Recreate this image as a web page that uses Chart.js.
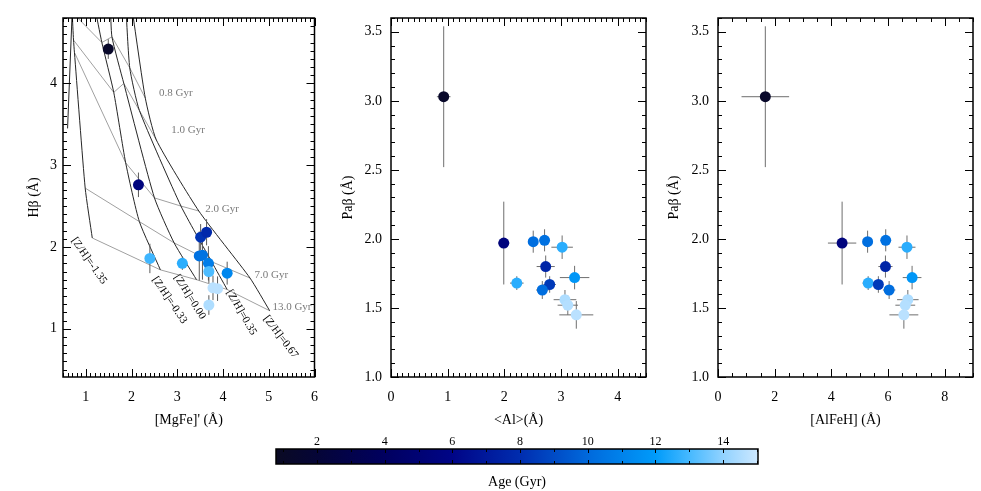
<!DOCTYPE html>
<html><head><meta charset="utf-8">
<script src="https://cdn.jsdelivr.net/npm/chart.js@4.4.1/dist/chart.umd.min.js"></script>
<style>
html,body{margin:0;padding:0;background:#fff;width:981px;height:491px;overflow:hidden;position:relative;}
canvas{position:absolute;}
#agelabel{position:absolute;left:0;width:1034px;top:474px;line-height:16px;text-align:center;font:14px 'Liberation Serif','DejaVu Serif',serif;color:#000;}
</style></head><body>
<canvas id="c1" width="330" height="440" style="left:0;top:0"></canvas>
<canvas id="c2" width="330" height="440" style="left:330px;top:0"></canvas>
<canvas id="c3" width="321" height="440" style="left:660px;top:0"></canvas>
<canvas id="cb" width="520" height="66" style="left:260px;top:425px"></canvas>
<div id="agelabel">Age (Gyr)</div>
<script>
// ---------- Panel 1: Hβ vs [MgFe]' ----------
const mgfe      = [1.49, 2.15, 3.51, 3.64, 2.40, 3.11, 3.48, 3.55, 3.68, 3.69, 4.09, 3.78, 3.88, 3.69];
const hbeta     = [4.42, 2.76, 2.12, 2.18, 1.86, 1.80, 1.89, 1.90, 1.80, 1.70, 1.68, 1.50, 1.49, 1.29];
const hbetaErr  = [0.12, 0.15, 0.16, 0.16, 0.18, 0.08, 0.30, 0.30, 0.21, 0.14, 0.14, 0.15, 0.15, 0.12];
const ageP1     = [1.2, 5.5, 8.2, 7.8, 12.9, 12.6, 10.3, 10.4, 10.8, 13.1, 11.2, 14.7, 14.7, 14.5];

// model grid (rows: [Z/H], columns: ages)
const gridZ     = ['-1.35', '-0.33', '0.00', '0.35', '0.67'];
const gridAge   = [0.5, 0.8, 1.0, 2.0, 7.0, 13.0];
const gridMgFe  = [
  [0.69, 0.70, 0.73, 0.75, 0.985, 1.14],
  [1.19, 1.35, 1.61, 1.87, 2.17, 2.63],
  [1.537, 1.57, 1.83, 2.50, 2.93, 3.42],
  [1.873, 1.96, 2.17, 3.08, 3.75, 4.09],
  [2.00, 2.30, 2.54, 3.47, 4.59, 5.02]];
const gridHbeta = [
  [4.95, 4.87, 4.53, 4.38, 2.72, 2.11],
  [4.95, 4.50, 3.89, 3.03, 2.31, 1.72],
  [4.95, 4.57, 4.00, 2.60, 2.05, 1.60],
  [4.95, 4.19, 3.67, 2.50, 1.82, 1.48],
  [4.95, 3.82, 3.31, 2.44, 1.62, 1.22]];
const lowZMgFe  = [0.60, 0.71];
const lowZHbeta = [3.45, 5.00];
const ageLabelText  = ['0.8 Gyr', '1.0 Gyr', '2.0 Gyr', '7.0 Gyr', '13.0 Gyr'];
const ageLabelMgFe  = [2.60, 2.87, 3.61, 4.69, 5.08];
const ageLabelHbeta = [3.885, 3.43, 2.465, 1.65, 1.26];
const zLabelMgFe    = [1.07, 2.83, 3.27, 4.40, 5.26];
const zLabelHbeta   = [1.83, 1.35, 1.39, 1.20, 0.90];
const zLabelAngle   = [55, 56, 58, 60, 53];

// ---------- Panels 2 & 3 ----------
const alIndex   = [0.93, 1.99, 2.51, 2.71, 3.02, 2.73, 2.22, 2.80, 2.67, 3.24, 3.07, 3.12, 3.27];
const alErr     = [0.12, 0.10, 0.05, 0.05, 0.19, 0.16, 0.12, 0.11, 0.11, 0.26, 0.20, 0.18, 0.30];
const alfeh     = [1.67, 4.38, 5.28, 5.92, 6.67, 5.91, 5.30, 5.66, 6.04, 6.85, 6.70, 6.61, 6.56];
const alfehErr  = [0.84, 0.50, 0.15, 0.15, 0.30, 0.25, 0.20, 0.15, 0.22, 0.33, 0.38, 0.35, 0.51];
const pabeta    = [3.03, 1.97, 1.98, 1.99, 1.94, 1.80, 1.68, 1.67, 1.63, 1.72, 1.56, 1.52, 1.45];
const pabetaErr = [0.51, 0.30, 0.08, 0.08, 0.085, 0.08, 0.05, 0.06, 0.065, 0.085, 0.07, 0.07, 0.10];
const ageP23    = [1.2, 5.5, 10.2, 10.3, 12.6, 7.6, 12.6, 8.4, 10.2, 11.8, 14.5, 14.6, 14.7];

// ---------- tick labels ----------
const p1XTicks = [1, 2, 3, 4, 5, 6];
const p1YTicks = [1, 2, 3, 4];
const p2XTicks = [0, 1, 2, 3, 4];
const p3XTicks = [0, 2, 4, 6, 8];
const pabTicks = [1.0, 1.5, 2.0, 2.5, 3.0, 3.5];
const cbTicks  = [2, 4, 6, 8, 10, 12, 14];

// ---------- style ----------
const FONT = "'Liberation Serif','DejaVu Serif',serif";
const cmapStops = [
  [0.79, [10, 10, 35]], [2, [5, 5, 55]], [4, [0, 0, 95]], [6, [0, 5, 135]],
  [8, [0, 45, 175]], [10, [0, 105, 220]], [12, [0, 155, 250]],
  [13, [70, 185, 255]], [14, [145, 210, 255]], [15.03, [205, 232, 255]]];
function cmap(a) {
  if (a <= cmapStops[0][0]) return 'rgb(' + cmapStops[0][1].join(',') + ')';
  for (let i = 1; i < cmapStops.length; i++) {
    if (a <= cmapStops[i][0]) {
      const [a0, c0] = cmapStops[i - 1], [a1, c1] = cmapStops[i];
      const t = (a - a0) / (a1 - a0);
      return 'rgb(' + c0.map((c, k) => Math.round(c + t * (c1[k] - c))).join(',') + ')';
    }
  }
  return 'rgb(' + cmapStops[cmapStops.length - 1][1].join(',') + ')';
}

function errData(xs, ys, xe, ye) {
  const out = [];
  xs.forEach((x, i) => {
    if (xe) out.push({x: x - xe[i], y: ys[i]}, {x: x + xe[i], y: ys[i]}, {x: null, y: null});
    out.push({x: x, y: ys[i] - ye[i]}, {x: x, y: ys[i] + ye[i]}, {x: null, y: null});
  });
  return out;
}
function pointsDataset(xs, ys, ages) {
  const cols = ages.map(cmap);
  return {data: xs.map((x, i) => ({x: x, y: ys[i]})), backgroundColor: cols, pointBackgroundColor: cols,
          borderWidth: 0, pointBorderWidth: 0, pointRadius: 5.5, order: 1};
}
function lineDataset(pts, color, tension, order) {
  return {data: pts, showLine: true, borderColor: color, borderWidth: 1, pointRadius: 0,
          tension: tension, spanGaps: false, order: order};
}

function framePlugin(cfg) {
  return {
    id: 'frame',
    afterDraw(chart) {
      const {ctx, chartArea: a} = chart;
      const xs = chart.scales.x, ys = chart.scales.y;
      const line = (x1, y1, x2, y2) => { ctx.beginPath(); ctx.moveTo(x1, y1); ctx.lineTo(x2, y2); ctx.stroke(); };
      const minorVals = (s, step) => { const o = []; const i0 = Math.ceil(s.min / step - 1e-6), i1 = Math.floor(s.max / step + 1e-6); for (let i = i0; i <= i1; i++) o.push(i * step); return o; };
      ctx.save();
      ctx.strokeStyle = '#000';
      ctx.lineWidth = 1;
      const xt = (v, len) => { const p = Math.round(xs.getPixelForValue(v)) + 0.5; line(p, a.bottom, p, a.bottom - len); line(p, a.top, p, a.top + len); };
      minorVals(xs, cfg.xMinor).forEach(v => xt(v, cfg.minLen));
      xs.ticks.forEach(t => xt(t.value, cfg.majLen));
      if (cfg.yMinor) {
        const yt = (v, len) => { const p = Math.round(ys.getPixelForValue(v)) + 0.5; line(a.left, p, a.left + len, p); line(a.right, p, a.right - len, p); };
        minorVals(ys, cfg.yMinor).forEach(v => yt(v, cfg.minLen));
        ys.ticks.forEach(t => yt(t.value, cfg.majLen));
      }
      ctx.lineWidth = 1.5;
      ctx.strokeRect(a.left, a.top, a.right - a.left, a.bottom - a.top);
      ctx.restore();
    }
  };
}
function textPlugin(items) {
  return {
    id: 'textLabels',
    afterDatasetsDraw(chart) {
      const {ctx} = chart; const xs = chart.scales.x, ys = chart.scales.y;
      ctx.save();
      ctx.beginPath(); ctx.rect(chart.chartArea.left, chart.chartArea.top, chart.chartArea.right - chart.chartArea.left, chart.chartArea.bottom - chart.chartArea.top); ctx.clip();
      items.forEach(it => {
        ctx.save();
        ctx.translate(xs.getPixelForValue(it.x), ys.getPixelForValue(it.y));
        ctx.rotate((it.angle || 0) * Math.PI / 180);
        ctx.font = it.size + 'px ' + FONT;
        ctx.fillStyle = it.color; ctx.textAlign = it.align; ctx.textBaseline = 'middle';
        ctx.fillText(it.text, 0, 0);
        ctx.restore();
      });
      ctx.restore();
    }
  };
}

function panel(canvasId, o) {
  const tickFont = {family: FONT, size: 14};
  return new Chart(document.getElementById(canvasId), {
    type: 'scatter',
    data: {datasets: o.datasets},
    options: {
      responsive: false, animation: false, events: [],
      layout: {padding: o.padding},
      elements: {line: {capBezierPoints: false}},
      plugins: {legend: {display: false}, tooltip: {enabled: false}},
      scales: {
        x: {type: 'linear', min: o.xMin, max: o.xMax,
            grid: {display: false, drawTicks: false}, border: {display: false},
            afterBuildTicks: s => { s.ticks = o.xTicks.map(v => ({value: v})); },
            afterFit: s => { s.height = 52; },
            ticks: {padding: 12, color: '#000', font: tickFont, callback: v => String(v)},
            title: {display: true, text: o.xTitle, color: '#000', font: tickFont, padding: 0}},
        y: {type: 'linear', min: o.yMin, max: o.yMax,
            grid: {display: false, drawTicks: false}, border: {display: false},
            afterBuildTicks: s => { s.ticks = o.yTicks.map(v => ({value: v})); },
            afterFit: s => { s.width = o.yW; },
            ticks: {padding: o.yPad, color: '#000', font: tickFont, callback: o.yFmt},
            title: {display: true, text: o.yTitle, color: '#000', font: tickFont, padding: 0}}
      }
    },
    plugins: [framePlugin(o.frame), textPlugin(o.texts || [])]
  });
}

// ---- Panel 1 datasets ----
const zLineSets = gridZ.map((z, i) => lineDataset(gridAge.map((a, j) => ({x: gridMgFe[i][j], y: gridHbeta[i][j]})), '#262626', 0.18, 3));
zLineSets.push(lineDataset(lowZMgFe.map((x, i) => ({x: x, y: lowZHbeta[i]})), '#262626', 0, 3));
const ageLineSets = gridAge.slice(1).map((a, jj) => lineDataset(gridZ.map((z, i) => ({x: gridMgFe[i][jj + 1], y: gridHbeta[i][jj + 1]})), '#a0a0a0', 0, 4));
const p1Texts = [];
ageLabelText.forEach((t, i) => p1Texts.push({text: t, x: ageLabelMgFe[i], y: ageLabelHbeta[i], color: '#7a7a7a', size: 11, align: 'left', angle: 0}));
gridZ.forEach((z, i) => p1Texts.push({text: '[Z/H]=' + z, x: zLabelMgFe[i], y: zLabelHbeta[i], color: '#000', size: 11, align: 'center', angle: zLabelAngle[i]}));

panel('c1', {
  datasets: [pointsDataset(mgfe, hbeta, ageP1), lineDataset(errData(mgfe, hbeta, null, hbetaErr), '#5a5a5a', 0, 2), ...zLineSets, ...ageLineSets],
  padding: {left: 26, top: 18, right: 12, bottom: 11}, yW: 37, yPad: 6,
  xMin: 0.5, xMax: 6, yMin: 0.41, yMax: 4.8, xTicks: p1XTicks, yTicks: p1YTicks,
  xTitle: "[MgFe]' (Å)", yTitle: 'Hβ (Å)', yFmt: v => String(v),
  frame: {xMinor: 0.1, yMinor: 0.1, majLen: 8, minLen: 4}, texts: p1Texts
});
panel('c2', {
  datasets: [pointsDataset(alIndex, pabeta, ageP23), lineDataset(errData(alIndex, pabeta, alErr, pabetaErr), '#6e6e6e', 0, 2)],
  padding: {left: 10, top: 18, right: 14, bottom: 11}, yW: 51, yPad: 9,
  xMin: 0, xMax: 4.5, yMin: 1.0, yMax: 3.6, xTicks: p2XTicks, yTicks: pabTicks,
  xTitle: '<Al>(Å)', yTitle: 'Paβ (Å)', yFmt: v => v.toFixed(1),
  frame: {xMinor: 0.1, yMinor: 0.1, majLen: 8, minLen: 4}
});
panel('c3', {
  datasets: [pointsDataset(alfeh, pabeta, ageP23), lineDataset(errData(alfeh, pabeta, alfehErr, pabetaErr), '#6e6e6e', 0, 2)],
  padding: {left: 6, top: 18, right: 8, bottom: 11}, yW: 52, yPad: 9,
  xMin: 0, xMax: 9, yMin: 1.0, yMax: 3.6, xTicks: p3XTicks, yTicks: pabTicks,
  xTitle: '[AlFeH] (Å)', yTitle: 'Paβ (Å)', yFmt: v => v.toFixed(1),
  frame: {xMinor: 0.5, yMinor: 0.1, majLen: 8, minLen: 4}
});

// ---- colour bar ----
const gradientPlugin = {
  id: 'cbarGradient',
  beforeDatasetsDraw(chart) {
    const {ctx, chartArea: a} = chart; const xs = chart.scales.x;
    const g = ctx.createLinearGradient(a.left, 0, a.right, 0);
    cmapStops.forEach(([v]) => {
      const f = Math.min(1, Math.max(0, (xs.getPixelForValue(v) - a.left) / (a.right - a.left)));
      g.addColorStop(f, cmap(v));
    });
    ctx.save(); ctx.fillStyle = g; ctx.fillRect(a.left, a.top, a.right - a.left, a.bottom - a.top); ctx.restore();
  }
};
new Chart(document.getElementById('cb'), {
  type: 'scatter',
  data: {datasets: []},
  options: {
    responsive: false, animation: false, events: [],
    layout: {padding: {left: 16, right: 22, top: 0, bottom: 27}},
    plugins: {legend: {display: false}, tooltip: {enabled: false}},
    scales: {
      x: {type: 'linear', position: 'top', min: 0.79, max: 15.03,
          grid: {display: false, drawTicks: false}, border: {display: false},
          afterBuildTicks: s => { s.ticks = cbTicks.map(v => ({value: v})); },
          afterFit: s => { s.height = 24; },
          ticks: {padding: 0, color: '#000', font: {family: FONT, size: 12}}},
      y: {display: false, min: 0, max: 1}
    }
  },
  plugins: [gradientPlugin, framePlugin({xMinor: 1, yMinor: 0, majLen: 4, minLen: 3})]
});
</script>
</body></html>
